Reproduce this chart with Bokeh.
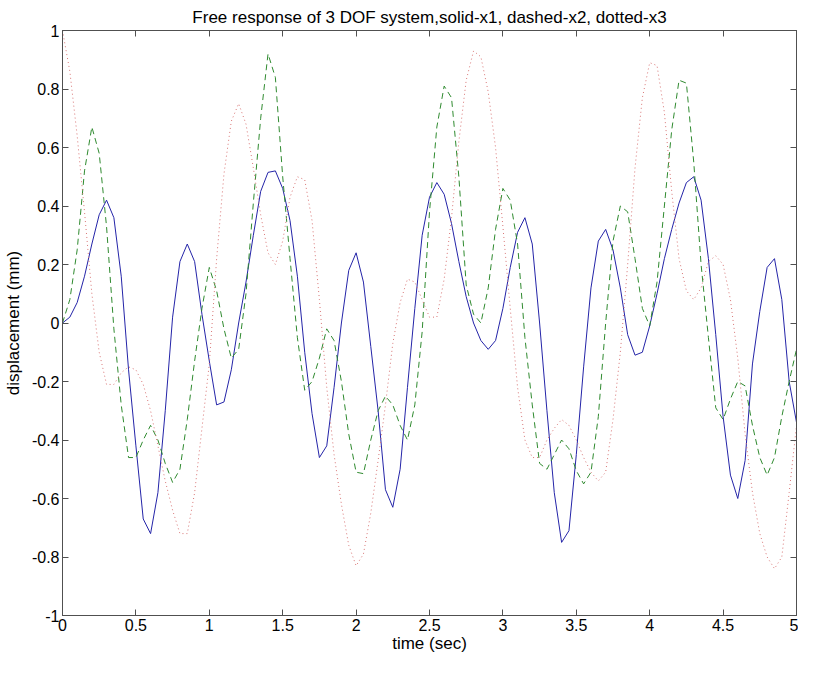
from bokeh.plotting import figure
from bokeh.models import Range1d, LinearAxis, FixedTicker
from bokeh.embed import file_html
from bokeh.resources import INLINE

t = [round(i * 0.05, 2) for i in range(101)]

x1 = [0.00, 0.02, 0.07, 0.16, 0.27, 0.37, 0.42, 0.36, 0.16, -0.16,
      -0.42, -0.67, -0.72, -0.58, -0.30, 0.02, 0.21, 0.27, 0.21, 0.03,
      -0.13, -0.28, -0.27, -0.16, 0.00, 0.14, 0.30, 0.45, 0.515, 0.52,
      0.46, 0.35, 0.16, -0.10, -0.31, -0.46, -0.42, -0.22, 0.00, 0.18,
      0.24, 0.14, -0.08, -0.30, -0.57, -0.63, -0.50, -0.22, 0.05, 0.30,
      0.43, 0.48, 0.44, 0.34, 0.21, 0.09, 0.00, -0.06, -0.09, -0.06,
      0.05, 0.19, 0.31, 0.36, 0.27, 0.00, -0.30, -0.58, -0.75, -0.71,
      -0.45, -0.15, 0.12, 0.28, 0.32, 0.25, 0.12, -0.04, -0.11, -0.10,
      -0.01, 0.10, 0.22, 0.32, 0.41, 0.48, 0.50, 0.42, 0.22, -0.04,
      -0.32, -0.52, -0.60, -0.47, -0.14, 0.04, 0.19, 0.22, 0.08, -0.20,
      -0.34]

x2 = [0.00, 0.08, 0.25, 0.52, 0.67, 0.58, 0.33, -0.02, -0.28, -0.46,
      -0.46, -0.40, -0.35, -0.40, -0.48, -0.545, -0.50, -0.33, -0.13, 0.05,
      0.19, 0.11, -0.02, -0.12, -0.09, 0.10, 0.41, 0.70, 0.92, 0.84,
      0.50, 0.22, -0.05, -0.23, -0.20, -0.12, -0.02, -0.06, -0.20, -0.38,
      -0.51, -0.515, -0.40, -0.30, -0.25, -0.28, -0.35, -0.40, -0.28, -0.03,
      0.38, 0.67, 0.81, 0.77, 0.50, 0.13, 0.03, 0.00, 0.12, 0.32,
      0.46, 0.42, 0.27, -0.05, -0.28, -0.48, -0.50, -0.45, -0.40, -0.43,
      -0.505, -0.55, -0.51, -0.32, 0.00, 0.28, 0.40, 0.38, 0.22, 0.05,
      -0.01, 0.14, 0.40, 0.66, 0.83, 0.82, 0.55, 0.20, -0.05, -0.29,
      -0.33, -0.26, -0.20, -0.215, -0.35, -0.46, -0.52, -0.46, -0.32, -0.20,
      -0.09]

x3 = [1.00, 0.86, 0.64, 0.38, 0.10, -0.10, -0.21, -0.21, -0.17, -0.15,
      -0.16, -0.21, -0.30, -0.42, -0.54, -0.64, -0.72, -0.72, -0.58, -0.36,
      -0.14, 0.22, 0.51, 0.69, 0.75, 0.68, 0.53, 0.37, 0.24, 0.20,
      0.28, 0.43, 0.50, 0.49, 0.35, 0.08, -0.22, -0.45, -0.62, -0.76,
      -0.83, -0.79, -0.65, -0.47, -0.28, -0.07, 0.07, 0.15, 0.14, 0.08,
      0.02, 0.02, 0.15, 0.36, 0.62, 0.83, 0.93, 0.91, 0.79, 0.60,
      0.33, 0.05, -0.22, -0.40, -0.46, -0.46, -0.40, -0.36, -0.33, -0.35,
      -0.40, -0.46, -0.51, -0.54, -0.51, -0.33, -0.10, 0.20, 0.53, 0.77,
      0.89, 0.88, 0.72, 0.45, 0.22, 0.11, 0.08, 0.12, 0.21, 0.23,
      0.20, 0.08, -0.12, -0.38, -0.58, -0.72, -0.80, -0.84, -0.80, -0.58,
      -0.35]

x_ticks = [0, 0.5, 1, 1.5, 2, 2.5, 3, 3.5, 4, 4.5, 5]
x_tick_labels = ["0", "0.5", "1", "1.5", "2", "2.5", "3", "3.5", "4", "4.5", "5"]
y_ticks = [-1, -0.8, -0.6, -0.4, -0.2, 0, 0.2, 0.4, 0.6, 0.8, 1]
y_tick_labels = ["-1", "-0.8", "-0.6", "-0.4", "-0.2", "0", "0.2", "0.4", "0.6", "0.8", "1"]

FONT = "Liberation Sans"
AX = "#505050"

p = figure(width=798, height=657, output_backend="svg", toolbar_location=None,
           x_range=Range1d(0, 5), y_range=Range1d(-1, 1),
           x_axis_label="time (sec)", y_axis_label="displacement (mm)",
           title="Free response of 3 DOF system,solid-x1, dashed-x2, dotted-x3",
           min_border_left=56, min_border_right=2, min_border_top=30, min_border_bottom=42)
p.title.align = "center"
p.title.text_font = FONT
p.title.text_font_size = "17px"
p.title.text_font_style = "normal"
p.title.text_color = "black"
p.title.offset = 0
p.title.standoff = 7

p.xgrid.visible = False
p.ygrid.visible = False
p.outline_line_color = AX
p.outline_line_width = 1
p.background_fill_color = "white"
p.border_fill_color = "white"

xb = p.below[0]
yl = p.left[0]

xb.ticker = FixedTicker(ticks=x_ticks)
xb.major_label_overrides = dict(zip(x_ticks, x_tick_labels))
yl.ticker = FixedTicker(ticks=y_ticks)
yl.major_label_overrides = dict(zip(y_ticks, y_tick_labels))

top = LinearAxis(ticker=FixedTicker(ticks=x_ticks), major_label_text_font_size="0px",
                 major_label_standoff=0, major_label_text_alpha=0)
right = LinearAxis(ticker=FixedTicker(ticks=y_ticks), major_label_text_font_size="0px",
                   major_label_standoff=0, major_label_text_alpha=0)
p.add_layout(top, "above")
p.add_layout(right, "right")

for ax in [xb, yl, top, right]:
    ax.axis_line_color = AX
    ax.major_tick_line_color = AX
    ax.major_tick_in = 6
    ax.major_tick_out = 0
    ax.minor_tick_line_color = None
    ax.major_label_text_font = FONT
    ax.major_label_text_color = "black"
    ax.axis_label_text_font = FONT
    ax.axis_label_text_font_style = "normal"
    ax.axis_label_text_color = "black"

xb.major_label_text_font_size = "16px"
yl.major_label_text_font_size = "16px"
xb.axis_label_text_font_size = "17px"
yl.axis_label_text_font_size = "17px"
xb.major_label_standoff = 3
xb.axis_label_standoff = 0
yl.major_label_standoff = 3
yl.axis_label_standoff = 6

p.line(t, x1, line_color="#2424a8", line_width=1)
p.line(t, x2, line_color="#2f8a2f", line_width=1, line_dash="6 4")
p.line(t, x3, line_color="#d87575", line_width=1, line_dash="1 3")

open("out.html", "w").write(file_html(p, INLINE))
